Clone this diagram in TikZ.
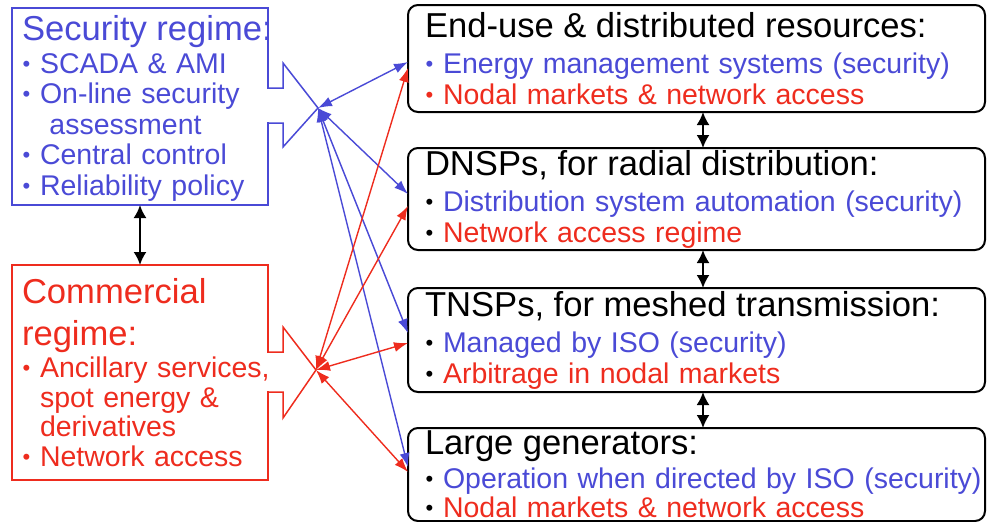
\documentclass[tikz,border=0pt]{standalone}
\usepackage{fontspec}
\setmainfont{Liberation Sans}
\usepackage{tikz}
\usetikzlibrary{arrows.meta}

\definecolor{secblue}{RGB}{74,74,214}
\definecolor{comred}{RGB}{238,44,30}

\newcommand{\bigtxt}{\fontsize{34.6}{31}\selectfont}
\newcommand{\smalltxt}{\fontsize{28.5}{30.5}\selectfont}
% one bullet line: bullet colour, text colour, text
\newcommand{\dotmark}{\makebox[18pt][l]{\hspace{0.5pt}\raisebox{2pt}{\fontsize{22}{22}\selectfont\textbullet}}}
\newcommand{\itm}[3]{\mbox{\textcolor{#1}{\dotmark}\textcolor{#2}{#3}}}
\newcommand{\ind}{\hspace*{18pt}}

\tikzset{
    >={Latex[length=14pt,width=10pt]},
    rbox/.style={draw=black, line width=2pt, rounded corners=10pt, outer sep=0pt,
        text width=543pt, inner xsep=17pt, inner ysep=0pt, align=left,
        anchor=north west, font=\smalltxt},
    lbox/.style={line width=1.5pt, outer sep=0pt, text width=236pt,
        inner xsep=10pt, inner ysep=0pt, align=left, anchor=north west, font=\smalltxt},
    secarr/.style={<->, secblue, line width=1.4pt},
    comarr/.style={<->, comred, line width=1.4pt},
    linkarr/.style={{Latex[length=13pt,width=13pt]}-{Latex[length=13pt,width=13pt]}, black, line width=2pt}}

\begin{document}
\begin{tikzpicture}[x=1pt, y=-1pt]
    \useasboundingbox (0,0) rectangle (988,522);

    % left: the two regimes
    \node[lbox, draw=secblue, minimum height=197pt] (sec) at (12,8) {%
        \mbox{\rule{0pt}{29pt}\bigtxt\color{secblue}Security regime:}\\[2pt]
        \itm{secblue}{secblue}{SCADA \& AMI}\\
        \itm{secblue}{secblue}{On-line security}\\
        \mbox{\ind\ \color{secblue}assessment}\\
        \itm{secblue}{secblue}{Central control}\\
        \itm{secblue}{secblue}{Reliability policy}};
    \node[lbox, draw=comred, minimum height=215pt] (com) at (12,265) {%
        \mbox{\bigtxt\color{comred}Commercial}\\[12pt]
        \mbox{\bigtxt\color{comred}regime:}\\[1pt]
        \itm{comred}{comred}{Ancillary services,}\\
        \mbox{\ind\color{comred}spot energy \&}\\[-2pt]
        \mbox{\ind\color{comred}derivatives}\\
        \itm{comred}{comred}{Network access}};

    % right: the four levels
    \node[rbox, minimum height=107pt] (enduse) at (408,5) {%
        \mbox{\bigtxt End-use \& distributed resources:}\\[6pt]
        \itm{secblue}{secblue}{Energy management systems (security)}\\
        \itm{comred}{comred}{Nodal markets \& network access}};
    \node[rbox, minimum height=102pt] (dnsp) at (408,148) {%
        \mbox{\bigtxt DNSPs, for radial distribution:}\\[6pt]
        \itm{black}{secblue}{Distribution system automation (security)}\\
        \itm{black}{comred}{Network access regime}};
    \node[rbox, minimum height=104pt] (tnsp) at (408,288) {%
        \mbox{\bigtxt TNSPs, for meshed transmission:}\\[6pt]
        \itm{black}{secblue}{Managed by ISO (security)}\\
        \itm{black}{comred}{Arbitrage in nodal markets}};
    \node[rbox, minimum height=93pt] (gen) at (408,428) {%
        \mbox{\bigtxt Large generators:}\\[3pt]
        \itm{black}{secblue}{Operation when directed by ISO (security)}\\[-1pt]
        \itm{black}{comred}{Nodal markets \& network access}};

    \coordinate (sechub) at (318,108);
    \coordinate (comhub) at (316,370);

    % callouts
    \fill[white] (266.5,89) rectangle (269.5,122);
    \draw[secblue, line width=1.5pt, line join=miter]
        (268,88) -- (283,88) -- (283,63) -- (sechub) -- (283,147) -- (283,123) -- (268,123);
    \fill[white] (266.5,353) rectangle (269.5,391);
    \draw[comred, line width=1.5pt, line join=miter]
        (268,352) -- (283,352) -- (283,327) -- (comhub) -- (283,418) -- (283,392) -- (268,392);

    % links
    \draw[secarr] (sechub) -- ([yshift=-3.5pt]enduse.west);
    \draw[secarr] (sechub) -- ([yshift=5pt]dnsp.west);
    \draw[secarr] (sechub) -- ([yshift=7pt]tnsp.west);
    \draw[secarr] (sechub) -- ([yshift=7.5pt]gen.west);
    \draw[comarr] (comhub) -- ([yshift=-9.5pt]enduse.west);
    \draw[comarr] (comhub) -- ([yshift=-7pt]dnsp.west);
    \draw[comarr] (comhub) -- ([yshift=-3pt]tnsp.west);
    \draw[comarr] (comhub) -- ([yshift=2.5pt]gen.west);

    \draw[linkarr] (sec.south) -- (com.north);
    \draw[linkarr] ([xshift=6.5pt]enduse.south) -- ([xshift=6.5pt]dnsp.north);
    \draw[linkarr] ([xshift=6.5pt]dnsp.south) -- ([xshift=6.5pt]tnsp.north);
    \draw[linkarr] ([xshift=6.5pt]tnsp.south) -- ([xshift=6.5pt]gen.north);

\end{tikzpicture}
\end{document}
